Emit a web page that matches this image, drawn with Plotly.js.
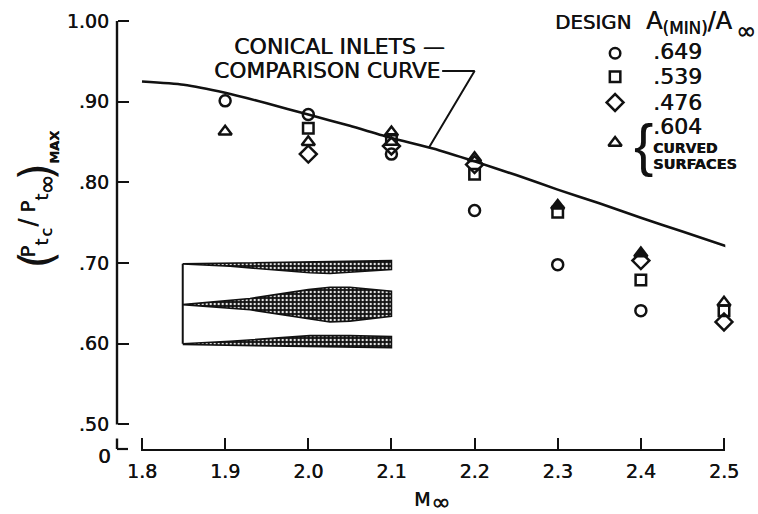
<!DOCTYPE html>
<html><head><meta charset="utf-8">
<script src="https://cdn.plot.ly/plotly-3.0.1.min.js"></script>
<style>html,body{margin:0;padding:0;background:#fff}</style></head>
<body><div id="chart" style="width:758px;height:514px"></div>
<script>
const INK = '#111';
const FONT = '"DejaVu Sans", sans-serif';
const THICK = '0.45px 0 0 #111';
const curveX = [1.8,1.85,1.9,1.95,2.0,2.05,2.1,2.15,2.2,2.25,2.3,2.35,2.4,2.45,2.505];
const curveY = [.925,.921,.911,.898,.884,.870,.855,.842,.826,.809,.791,.774,.756,.739,.72];
const circleX = [1.9,2.0,2.1,2.2,2.3,2.4];
const circleY = [.901,.884,.835,.765,.698,.641];
const squareX = [2.0,2.1,2.2,2.3,2.4,2.5];
const squareY = [.867,.853,.81,.763,.679,.641];
const diamondX = [2.0,2.1,2.2,2.4,2.5];
const diamondY = [.835,.845,.822,.703,.627];
const triangleX = [1.9,2.0,2.1,2.2,2.3,2.4,2.5];
const triangleY = [.863,.85,.862,.83,.771,.712,.651];
const triangleSymbols = ['triangle-up-open','triangle-up-open','triangle-up-open','triangle-up-open','triangle-up','triangle-up','triangle-up-open'];
const xTicks = [1.8,1.9,2.0,2.1,2.2,2.3,2.4,2.5];
const xLabels = ['1.8','1.9','2.0','2.1','2.2','2.3','2.4','2.5'];
const yZero = .4695;
const yTicks = [1,.9,.8,.7,.6,.5];
const yLabels = ['1.00','.90','.80','.70','.60','.50'];
const designSymbols = ['circle-open','square-open','diamond-open','triangle-up-open'];
const designValues = ['.649','.539','.476','.604'];
const keyX = 2.369;
const keyY = [.960,.931,.899,.849];
const leaderX = [2.161,2.2,2.145];
const leaderY = [.938,.938,.843];
const topWedgeX = [1.849,2.1,2.1,2.026,2.002,1.906,1.849];
const topWedgeY = [.699,.703,.692,.687,.688,.696,.699];
const midWedgeX = [1.849,1.93,2.0,2.026,2.05,2.1,2.1,2.05,2.026,2.0,1.93,1.849];
const midWedgeY = [.6485,.656,.667,.670,.670,.665,.634,.628,.627,.631,.642,.6485];
const lowWedgeX = [1.849,1.906,2.002,2.05,2.1,2.1,1.849];
const lowWedgeY = [.600,.603,.610,.610,.609,.595,.599];

const pts = (x,y,sym,size) => ({x,y,type:'scatter',mode:'markers',hoverinfo:'skip',cliponaxis:false,
  marker:{symbol:sym,size,color:INK,line:{color:INK,width:2.5}}});
const ln = (x,y,w) => ({x,y,type:'scatter',mode:'lines',hoverinfo:'skip',cliponaxis:false,line:{color:INK,width:w,shape:'spline',smoothing:.6}});
const wedge = (x,y) => ({x,y,type:'scatter',mode:'lines',hoverinfo:'skip',fill:'toself',
  line:{color:INK,width:1.6},fillcolor:INK,
  fillpattern:{shape:'.',bgcolor:'#111',fgcolor:'#e8e8e8',size:4,solidity:.28}});
const straight = (x,y,w) => ({x,y,type:'scatter',mode:'lines',hoverinfo:'skip',line:{color:INK,width:w}});

const traces = [
  wedge(topWedgeX,topWedgeY), wedge(midWedgeX,midWedgeY), wedge(lowWedgeX,lowWedgeY),
  straight([1.849,1.849],[.6,.699],2),
  ln(curveX,curveY,2.6),
  straight(leaderX,leaderY,2),
  pts(triangleX,triangleY,triangleSymbols,11.5),
  pts(diamondX,diamondY,designSymbols[2],13),
  pts(squareX,squareY,designSymbols[1],10.5),
  pts(circleX,circleY,designSymbols[0],11),
  ...designSymbols.map((s,i)=>pts([keyX],[keyY[i]],s,s==='diamond-open'?13:s==='triangle-up-open'?11.5:10.5))
];

const PLOT_L=117, PLOT_W=623, PLOT_B=449.5, PLOT_H=439.5;
const note = (text,px,py,size,extra={}) => Object.assign({text,x:(px-PLOT_L)/PLOT_W,y:(PLOT_B-py)/PLOT_H,xref:'paper',yref:'paper',showarrow:false,
  xanchor:'left',yanchor:'middle',font:{family:FONT,size,color:INK,shadow:THICK}},extra);
const rot = (text,px,py,size,extra={}) => note(text,px,py,size,Object.assign({xanchor:'center',textangle:-90},extra));
const annotations = [
  note('CONICAL INLETS —',447,47,22,{xanchor:'right'}),
  note('COMPARISON CURVE',442,71,21.7,{xanchor:'right'}),
  note('DESIGN',553,23,19.8),
  note('A<sub>(MIN)</sub>/A',644,23,24),
  note('∞',734,31,24),
  note(designValues[0],651,52,22),
  note(designValues[1],651,77,22),
  note(designValues[2],651,103,22),
  note(designValues[3],651,127,22),
  note('<b>CURVED</b>',651,148,14),
  note('<b>SURFACES</b>',651,164,14.5),
  note('{',643,145,58,{xanchor:'center',font:{family:'"Liberation Sans", sans-serif',size:58,color:INK}}),
  note('0',113,457,20,{xanchor:'right'}),
  note('M',412,500,19),
  note('∞',429,503,23),
  rot('(',36,260,46,{font:{family:FONT,size:46,color:INK}}),
  rot('P',28,252,20),
  rot('t',42,243,18),
  rot('c',47,233,16),
  rot('/',28,223,24),
  rot('P',28,207,20),
  rot('t',42,198,18),
  rot('∞',47,185,24),
  rot(')',36,172,46,{font:{family:FONT,size:46,color:INK}}),
  rot('<b>MAX</b>',55,148,13)
];

const shapes = [
  {type:'line',xref:'paper',yref:'y',x0:0,x1:0,y0:1,y1:.5,line:{color:INK,width:2.4}},
  {type:'line',xref:'paper',yref:'paper',x0:0,x1:0,y0:0,y1:10.5/PLOT_H,line:{color:INK,width:2.4}},
  {type:'line',xref:'paper',yref:'paper',x0:0,x1:11/PLOT_W,y0:0,y1:0,line:{color:INK,width:2.2}}
];

const tickX0 = 142, tickScale = 831;
const layout = {
  width:758,height:514,paper_bgcolor:'#fff',plot_bgcolor:'rgba(0,0,0,0)',showlegend:false,
  margin:{l:PLOT_L,r:18,t:10,b:64.5},
  xaxis:{domain:[(tickX0-1.3-PLOT_L)/PLOT_W,(724+1.3-PLOT_L)/PLOT_W],range:[1.8-1.3/tickScale,2.5+1.3/tickScale],
    tickmode:'array',tickvals:xTicks,ticktext:xLabels,
    ticks:'inside',ticklen:11,tickwidth:2,tickcolor:INK,showgrid:false,zeroline:false,
    showline:true,linecolor:INK,linewidth:2.4,ticklabelstandoff:4,
    tickfont:{family:FONT,size:19,color:INK,shadow:THICK}},
  yaxis:{anchor:'free',position:0,range:[yZero,1+(11/808)],tickmode:'array',tickvals:yTicks,ticktext:yLabels,
    ticks:'inside',ticklen:11,tickwidth:2,tickcolor:INK,showgrid:false,zeroline:false,showline:false,
    ticklabelstandoff:8,tickfont:{family:FONT,size:19,color:INK,shadow:THICK}},
  shapes,annotations
};
Plotly.newPlot('chart',traces,layout,{displayModeBar:false,staticPlot:true});
</script></body></html>
